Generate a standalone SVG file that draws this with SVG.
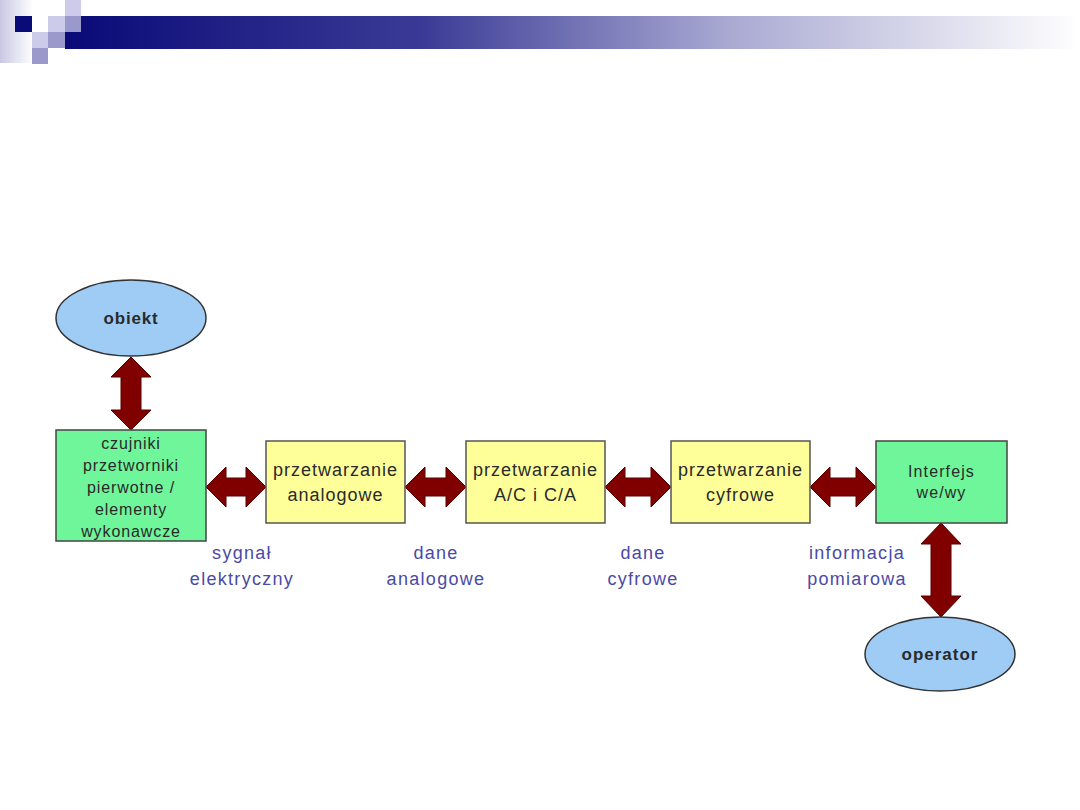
<svg xmlns="http://www.w3.org/2000/svg" width="1080" height="810" viewBox="0 0 1080 810">
<defs>
<linearGradient id="bar" x1="0" y1="0" x2="1" y2="0">
<stop offset="0" stop-color="#0a0a78"/>
<stop offset="0.35" stop-color="#3a3a96"/>
<stop offset="0.65" stop-color="#a8a8d2"/>
<stop offset="1" stop-color="#ffffff"/>
</linearGradient>
<linearGradient id="strip" x1="0" y1="0" x2="1" y2="0">
<stop offset="0" stop-color="#c8c8e4"/>
<stop offset="1" stop-color="#ffffff"/>
</linearGradient>
<style>
.arr{fill:#800000;stroke:#5a0000;stroke-width:1}
.grn{fill:#6ff59a;stroke:#444;stroke-width:1.5}
.yel{fill:#ffff99;stroke:#555;stroke-width:1.5}
.ell{fill:#9fccf5;stroke:#333;stroke-width:1.5}
.t{font-family:"Liberation Sans",Arial,sans-serif;text-anchor:middle;fill:#2a2a2a}
.lbl{font-family:"Liberation Sans",Arial,sans-serif;text-anchor:middle;fill:#4a4aa6;font-size:18px;letter-spacing:1.3px}
</style>
</defs>
<g id="header">
<rect x="0" y="0" width="33" height="63" fill="url(#strip)"/>
<rect x="65" y="16" width="1015" height="33" fill="url(#bar)"/>
<rect x="15" y="16" width="17" height="16" fill="#0a0a78"/>
<rect x="65" y="0" width="16" height="16" fill="#ccccea"/>
<rect x="48" y="16" width="17" height="16" fill="#ccccea"/>
<rect x="65" y="16" width="16" height="16" fill="#9999cc"/>
<rect x="32" y="32" width="16" height="16" fill="#ccccea"/>
<rect x="48" y="32" width="17" height="16" fill="#9999cc"/>
<rect x="32" y="48" width="16" height="16" fill="#9999cc"/>
</g>
<g id="connectors">
<polygon class="arr" points="131,357 151,377 141,377 141,410 151,410 131,430 111,410 121,410 121,377 111,377"/>
<polygon class="arr" points="206,487 226,467 226,478 246,478 246,467 266,487 246,507 246,496 226,496 226,507"/>
<polygon class="arr" points="405,487 425,467 425,478 446,478 446,467 466,487 446,507 446,496 425,496 425,507"/>
<polygon class="arr" points="605,487 625,467 625,478 651,478 651,467 671,487 651,507 651,496 625,496 625,507"/>
<polygon class="arr" points="810,487 830,467 830,478 856,478 856,467 876,487 856,507 856,496 830,496 830,507"/>
<polygon class="arr" points="941,523 961,544 951,544 951,596 961,596 941,617 921,596 931,596 931,544 921,544"/>
</g>
<g id="obiekt">
<ellipse class="ell" cx="131" cy="318" rx="75" ry="38"/>
<text class="t" x="131" y="324" font-size="17" font-weight="bold" letter-spacing="0.8">obiekt</text>
</g>
<g id="czujniki">
<rect class="grn" x="56" y="430" width="150" height="111"/>
<text class="t" font-size="16" letter-spacing="0.9"><tspan x="131" y="449">czujniki</tspan><tspan x="131" y="471">przetworniki</tspan><tspan x="131" y="493">pierwotne /</tspan><tspan x="131" y="515">elementy</tspan><tspan x="131" y="537">wykonawcze</tspan></text>
</g>
<g id="analogowe">
<rect class="yel" x="266" y="441" width="139" height="82"/>
<text class="t" font-size="18" letter-spacing="1"><tspan x="335.5" y="476">przetwarzanie</tspan><tspan x="335.5" y="501">analogowe</tspan></text>
</g>
<g id="ac">
<rect class="yel" x="466" y="441" width="139" height="82"/>
<text class="t" font-size="18" letter-spacing="1"><tspan x="535.5" y="476">przetwarzanie</tspan><tspan x="535.5" y="501">A/C i C/A</tspan></text>
</g>
<g id="cyfrowe">
<rect class="yel" x="671" y="441" width="139" height="82"/>
<text class="t" font-size="18" letter-spacing="1"><tspan x="740.5" y="476">przetwarzanie</tspan><tspan x="740.5" y="501">cyfrowe</tspan></text>
</g>
<g id="interfejs">
<rect class="grn" x="876" y="441" width="131" height="82"/>
<text class="t" font-size="16" letter-spacing="1.1"><tspan x="941.5" y="477">Interfejs</tspan><tspan x="941.5" y="498">we/wy</tspan></text>
</g>
<g id="operator">
<ellipse class="ell" cx="940" cy="654" rx="75" ry="37"/>
<text class="t" x="940" y="660" font-size="17" font-weight="bold" letter-spacing="1">operator</text>
</g>
<g id="labels">
<text class="lbl"><tspan x="242" y="559">sygnał</tspan><tspan x="242" y="585">elektryczny</tspan></text>
<text class="lbl"><tspan x="436" y="559">dane</tspan><tspan x="436" y="585">analogowe</tspan></text>
<text class="lbl"><tspan x="643" y="559">dane</tspan><tspan x="643" y="585">cyfrowe</tspan></text>
<text class="lbl"><tspan x="857" y="559">informacja</tspan><tspan x="857" y="585">pomiarowa</tspan></text>
</g>
</svg>
